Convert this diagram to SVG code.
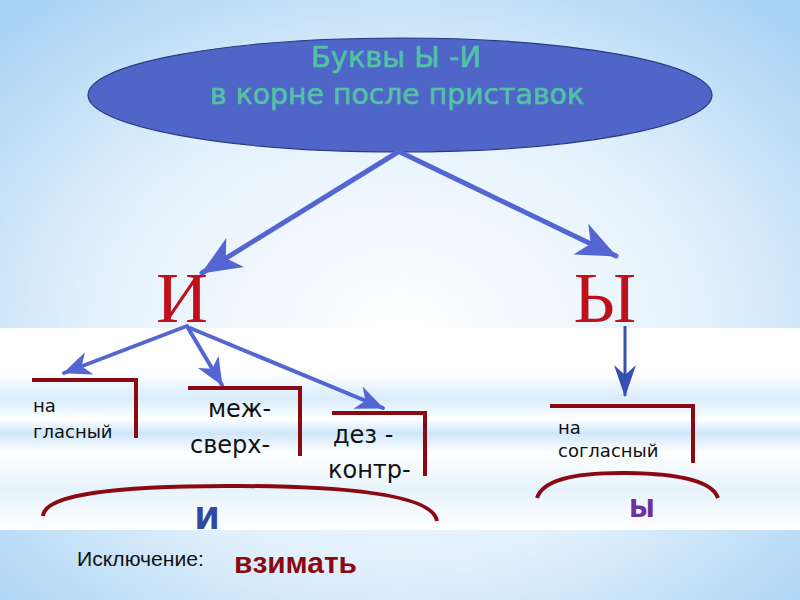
<svg xmlns="http://www.w3.org/2000/svg" width="800" height="600" viewBox="0 0 800 600">
<defs>
<radialGradient id="bg" cx="0.5" cy="0.55" r="0.7">
<stop offset="0" stop-color="#ffffff"/>
<stop offset="0.55" stop-color="#e3f1fc"/>
<stop offset="1" stop-color="#a9d3f5"/>
</radialGradient>
<linearGradient id="band" x1="0" y1="0" x2="0" y2="1">
<stop offset="0" stop-color="#ffffff"/>
<stop offset="0.22" stop-color="#ffffff"/>
<stop offset="0.35" stop-color="#d8ecfb"/>
<stop offset="0.45" stop-color="#ffffff"/>
<stop offset="0.52" stop-color="#cfe7fa"/>
<stop offset="0.62" stop-color="#ffffff"/>
<stop offset="0.8" stop-color="#e6f3fc"/>
<stop offset="1" stop-color="#ffffff"/>
</linearGradient>
<marker id="ah" viewBox="0 0 40 36" refX="39" refY="18" markerWidth="40" markerHeight="36" orient="auto" markerUnits="userSpaceOnUse">
<path d="M0,1 L40,18 L0,35 L11,18 Z" fill="#5466d2"/>
</marker>
<marker id="ahs" viewBox="0 0 28 26" refX="27" refY="13" markerWidth="28" markerHeight="26" orient="auto" markerUnits="userSpaceOnUse">
<path d="M0,1 L28,13 L0,25 L8,13 Z" fill="#5466d2"/>
</marker>
<marker id="ah2" viewBox="0 0 32 24" refX="31" refY="12" markerWidth="32" markerHeight="24" orient="auto" markerUnits="userSpaceOnUse">
<path d="M0,1 L32,12 L0,23 L10,12 Z" fill="#3450b0"/>
</marker>
</defs>
<style>
.conn{fill:none;stroke:#5466d2;stroke-linecap:round}
.br{fill:none;stroke:#8b0a12;stroke-width:4}
.sm{font-family:"DejaVu Sans",sans-serif;font-size:18px;fill:#111}
.md{font-family:"DejaVu Sans",sans-serif;font-size:24px;fill:#111}
.big{font-family:"Liberation Serif",serif;font-size:72px;fill:#c0101c}
.hd{font-family:"DejaVu Sans",sans-serif;font-size:28px;fill:#52c2a4;stroke:#52c2a4;stroke-width:0.6}
</style>
<rect width="800" height="600" fill="url(#bg)"/>
<rect x="0" y="328" width="800" height="202" fill="url(#band)"/>

<g id="title">
<ellipse cx="400" cy="95" rx="312" ry="57" fill="#4f65c8" stroke="#2a3a80" stroke-width="1.2"/>
<text class="hd" x="396" y="67" text-anchor="middle" textLength="170" lengthAdjust="spacingAndGlyphs">Буквы Ы -И</text>
<text class="hd" x="397" y="104" text-anchor="middle" textLength="374" lengthAdjust="spacingAndGlyphs">в корне после приставок</text>
</g>

<g id="connectors">
<line class="conn" x1="398" y1="152" x2="202" y2="273" stroke-width="5" marker-end="url(#ah)"/>
<line class="conn" x1="400" y1="152" x2="616" y2="256" stroke-width="5" marker-end="url(#ah)"/>
<line class="conn" x1="187" y1="326" x2="64" y2="373" stroke-width="4" marker-end="url(#ahs)"/>
<line class="conn" x1="188" y1="328" x2="222" y2="385" stroke-width="4" marker-end="url(#ahs)"/>
<line class="conn" x1="190" y1="328" x2="383" y2="408" stroke-width="4" marker-end="url(#ahs)"/>
<line x1="625" y1="326" x2="625" y2="396" stroke="#3450b0" stroke-width="3" marker-end="url(#ah2)"/>
</g>

<g id="letterI"><text class="big" x="182" y="322" text-anchor="middle">И</text></g>
<g id="letterY"><text class="big" x="605" y="322" text-anchor="middle">Ы</text></g>

<g id="vowel">
<path class="br" d="M32,380 H136 V438"/>
<text class="sm" x="33" y="412">на</text>
<text class="sm" x="33" y="438">гласный</text>
</g>
<g id="mezh">
<path class="br" d="M188,388 H300 V456"/>
<text class="md" x="208" y="417">меж-</text>
<text class="md" x="190" y="453">сверх-</text>
</g>
<g id="dez">
<path class="br" d="M332,413 H425 V476"/>
<text class="md" x="333" y="443">дез -</text>
<text class="md" x="328" y="478">контр-</text>
</g>
<g id="consonant">
<path class="br" d="M550,406 H693 V463"/>
<text class="sm" x="558" y="434">на</text>
<text class="sm" x="558" y="457">согласный</text>
</g>

<g id="resultI">
<path class="br" d="M43,516 Q45,485 240,486 Q432,487 437,521"/>
<text x="207" y="529" text-anchor="middle" font-family="DejaVu Sans,sans-serif" font-weight="bold" font-size="30" fill="#2e49a0">И</text>
</g>
<g id="resultY">
<path class="br" d="M537,498 Q545,472 627,473 Q710,474 718,498"/>
<text x="642" y="517" text-anchor="middle" font-family="DejaVu Sans,sans-serif" font-weight="bold" font-size="25" fill="#7030a0">Ы</text>
</g>

<g id="exception">
<text x="77" y="566" font-family="Liberation Sans,sans-serif" font-size="20" fill="#111" textLength="127" lengthAdjust="spacingAndGlyphs">Исключение:</text>
<text x="234" y="573" font-family="Liberation Sans,sans-serif" font-weight="bold" font-size="29" fill="#8b0a12" textLength="123" lengthAdjust="spacingAndGlyphs">взимать</text>
</g>
</svg>
